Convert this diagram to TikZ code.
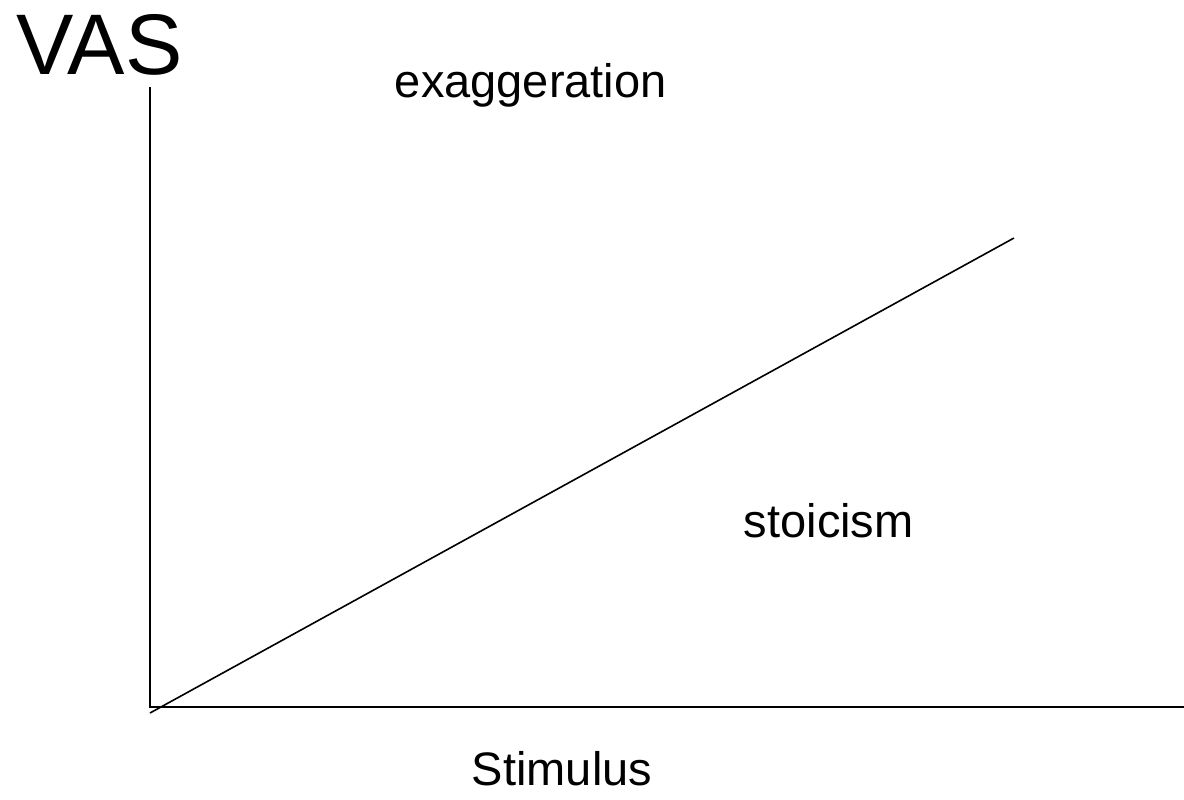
\documentclass[tikz,border=0pt]{standalone}
\usepackage{fontspec}
\setmainfont{Liberation Sans}
\begin{document}
\begin{tikzpicture}[x=1pt,y=-1pt,line width=1.8pt,every node/.style={inner sep=0pt,anchor=base west,font=\fontsize{47}{51}\selectfont}]
  \useasboundingbox (0,0) rectangle (1184,800);
  % axes
  \coordinate (origin) at (150,707);
  \coordinate (ytop) at (150,87);
  \coordinate (xend) at (1184,707);
  \draw (ytop) -- (origin) -- (xend);

  % response line
  \coordinate (lstart) at (150,713);
  \coordinate (lend) at (1014,238);
  \draw[line width=1.6pt] (lstart) -- (lend);

  % labels
  \node[font=\fontsize{86}{90}\selectfont] (vas) at (16,75) {VAS};
  \node (stim) at (471,785) {Stimulus};
  \node (exag) at (394,98) {exaggeration};
  \node (stoic) at (743,537) {stoicism};
\end{tikzpicture}
\end{document}
